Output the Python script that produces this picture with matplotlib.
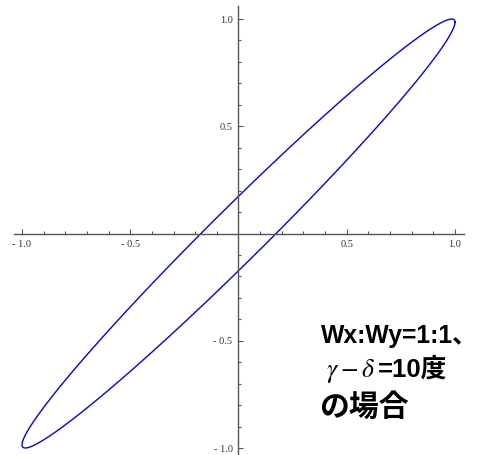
import numpy as np
import matplotlib.pyplot as plt

# Lissajous figure parameters: amplitude ratio and phase difference
wx = 1.0
wy = 1.0
phase_deg = 10.0

major_ticks = [-1.0, -0.5, 0.5, 1.0]
minor_ticks = [-0.9, -0.8, -0.7, -0.6, -0.4, -0.3, -0.2, -0.1,
               0.1, 0.2, 0.3, 0.4, 0.6, 0.7, 0.8, 0.9]
tick_labels = ["- 1.0", "- 0.5", "0.5", "1.0"]

caption = ["Wx:Wy=1:1、", r"$\gamma-\delta$", "=10度", "の場合"]

plt.rcParams["mathtext.fontset"] = "stix"

t = np.linspace(0, 2 * np.pi, 721)
x = wx * np.cos(t)
y = wy * np.cos(t - np.deg2rad(phase_deg))

fig = plt.figure(figsize=(4.79, 4.55), dpi=100)
ax = fig.add_axes([0, 0, 1, 1])
ax.plot(x, y, color="#0000ff", lw=1.0)

ax.set_xlim(-1.1016, 1.1109)
ax.set_ylim(-1.0326, 1.0886)

axis_color = "#555555"
for side in ["top", "right"]:
    ax.spines[side].set_visible(False)
ax.spines["left"].set_position(("data", 0))
ax.spines["bottom"].set_position(("data", 0))
ax.spines["bottom"].set_bounds(-1.037, 1.04)
ax.spines["left"].set_bounds(-1.04, 1.061)
for side in ["left", "bottom"]:
    ax.spines[side].set_color(axis_color)
    ax.spines[side].set_linewidth(1.0)

ax.set_xticks(major_ticks)
ax.set_xticks(minor_ticks, minor=True)
ax.set_yticks(major_ticks)
ax.set_yticks(minor_ticks, minor=True)
ax.set_xticklabels(tick_labels, family="Liberation Serif", fontsize=7.5, color="#333333")
ax.set_yticklabels(tick_labels, family="Liberation Serif", fontsize=7.5, color="#333333")
ax.tick_params(which="major", direction="in", length=3.5, width=0.8, color=axis_color)
ax.tick_params(which="minor", direction="in", length=2.2, width=0.8, color=axis_color)
ax.tick_params(axis="x", which="major", pad=4.5)
ax.tick_params(axis="y", which="major", pad=4.3)

# caption in the lower right corner
fam = ["Liberation Sans", "Noto Sans CJK JP"]
fs = 18.5
fig.text(321 / 479, 1 - 343 / 455, caption[0], family=fam, fontsize=17.8,
         fontweight="bold", va="baseline")
fig.text(326 / 479, 1 - 377 / 455, caption[1], fontsize=fs, va="baseline")
fig.text(378 / 479, 1 - 377 / 455, caption[2], family=fam, fontsize=fs,
         fontweight="bold", va="baseline")
fig.text(319 / 479, 1 - 416 / 455, caption[3], family=fam, fontsize=21.5,
         fontweight="bold", va="baseline")

fig.savefig("out.png", dpi=100)
